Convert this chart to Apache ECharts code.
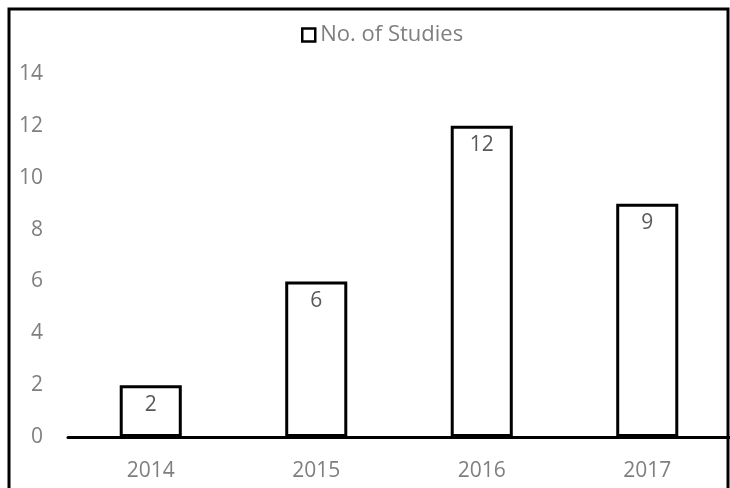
<!DOCTYPE html>
<html><head><meta charset="utf-8">
<script src="https://cdn.jsdelivr.net/npm/echarts@6/dist/echarts.min.js"></script>
<style>html,body{margin:0;padding:0;background:#fff}#c{width:730px;height:488px}</style>
</head><body><div id="c"></div>
<script>
const categories = ['2014', '2015', '2016', '2017'];
const studies = [2, 6, 12, 9];
const seriesName = 'No. of Studies';
const font = '"Open Sans", sans-serif';
const chart = echarts.init(document.getElementById('c'));
chart.setOption({
  animation: false,
  backgroundColor: '#fff',
  graphic: [{type: 'rect', shape: {x: 9, y: 9, width: 719, height: 500}, style: {fill: 'none', stroke: '#000', lineWidth: 3}, z: 100}],
  legend: {
    top: 19, left: 296, itemWidth: 13, itemHeight: 13, itemGap: 7,
    icon: 'rect',
    textStyle: {color: '#7f7f7f', fontSize: 22, fontFamily: font},
    data: [{name: seriesName, itemStyle: {color: '#fff', borderColor: '#000', borderWidth: 2.5}}]
  },
  grid: {left: 68, right: -2, top: 74, bottom: 51, containLabel: false},
  xAxis: {
    type: 'category', data: categories,
    axisLine: {lineStyle: {color: '#000', width: 3}},
    axisTick: {show: false},
    axisLabel: {color: '#7f7f7f', fontSize: 21, fontFamily: font, margin: 24}
  },
  yAxis: {
    type: 'value', min: 0, max: 14, interval: 2,
    axisLine: {show: false}, axisTick: {show: false}, splitLine: {show: false},
    axisLabel: {color: '#7f7f7f', fontSize: 21, fontFamily: font, margin: 25}
  },
  series: [{
    name: seriesName, type: 'bar', data: studies, barWidth: '37.5%',
    itemStyle: {color: '#fff', borderColor: '#000', borderWidth: 3},
    label: {show: true, position: 'insideTop', distance: 9, color: '#595959', fontSize: 21, fontFamily: font}
  }]
});
</script></body></html>
